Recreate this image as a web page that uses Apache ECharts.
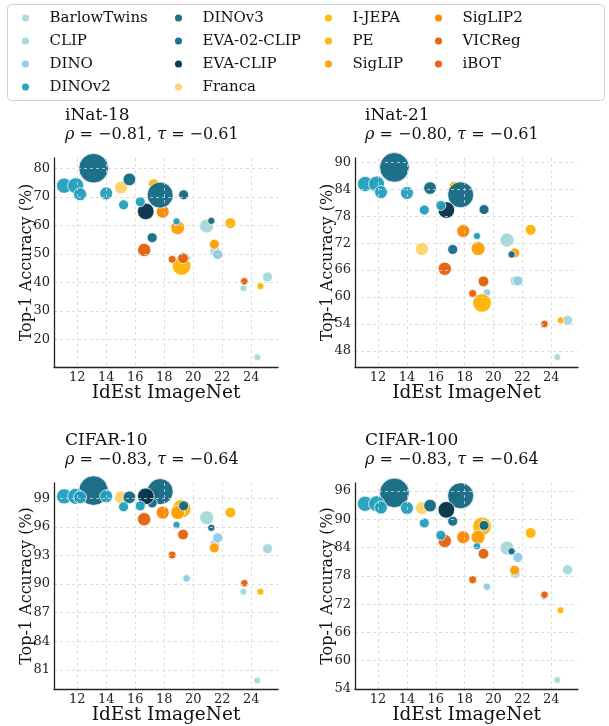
<!DOCTYPE html>
<html>
<head>
<meta charset="utf-8">
<script src="https://cdn.jsdelivr.net/npm/echarts@6/dist/echarts.min.js"></script>
<style>
  html, body { margin: 0; padding: 0; background: #fff; }
  #chart { width: 609px; height: 726px; }
</style>
</head>
<body>
<div id="chart"></div>
<script>
// panels
const datasets = ['iNat-18', 'iNat-21', 'CIFAR-10', 'CIFAR-100'];
const rhoValues = ['−0.81', '−0.80', '−0.83', '−0.83'];
const tauValues = ['−0.61', '−0.61', '−0.64', '−0.64'];

// legend order (alphabetical, as in the figure)
const modelNames = ['BarlowTwins', 'CLIP', 'DINO', 'DINOv2', 'DINOv3', 'EVA-02-CLIP', 'EVA-CLIP',
  'Franca', 'I-JEPA', 'PE', 'SigLIP', 'SigLIP2', 'VICReg', 'iBOT'];

// one entry per model checkpoint
const pointModel = [
  'BarlowTwins',
  'CLIP', 'CLIP', 'CLIP', 'CLIP',
  'DINO', 'DINO',
  'DINOv2', 'DINOv2', 'DINOv2', 'DINOv2', 'DINOv2', 'DINOv2', 'DINOv2',
  'DINOv3', 'DINOv3', 'DINOv3', 'DINOv3',
  'EVA-02-CLIP', 'EVA-02-CLIP',
  'EVA-CLIP',
  'Franca',
  'I-JEPA',
  'PE', 'PE', 'PE',
  'SigLIP', 'SigLIP',
  'SigLIP2',
  'VICReg', 'VICReg',
  'iBOT', 'iBOT'
];
const pointIdEst = [
  24.42,
  20.93, 21.50, 25.13, 23.47,
  21.69, 19.54,
  11.10, 11.90, 12.20, 14.00, 15.20, 16.35, 18.85,
  13.13, 15.60, 17.72, 19.34,
  17.17, 21.25,
  16.73,
  15.03,
  17.29,
  19.20, 22.57, 24.64,
  18.93, 21.46,
  17.90,
  18.55, 23.53,
  16.62, 19.30
];
// bubble size (approx. parameters, millions)
const pointParamsM = [
  230,
  1320, 590, 590, 230,
  590, 280,
  1620, 1800, 1110, 1110, 590, 590, 260,
  7000, 1050, 5300, 590,
  590, 260,
  1980,
  1110,
  740,
  2560, 700, 230,
  1320, 590,
  1110,
  330, 280,
  1170, 700
];
const accINat18 = [
  13.8,
  59.8, 51.1, 41.9, 38.0,
  49.8, 48.5,
  73.9, 73.9, 70.9, 71.2, 67.2, 68.3, 61.4,
  80.0, 76.1, 70.6, 70.7,
  55.7, 61.6,
  64.9,
  73.3,
  74.4,
  45.8, 60.8, 38.7,
  59.2, 53.4,
  64.8,
  48.1, 40.4,
  51.4, 48.5
];
const accINat21 = [
  46.6,
  72.7, 63.6, 54.8, 53.7,
  63.6, 61.0,
  85.2, 85.2, 83.4, 83.2, 79.4, 80.4, 73.6,
  88.9, 84.3, 82.8, 79.5,
  70.6, 69.5,
  79.4,
  70.7,
  84.6,
  58.7, 75.0, 54.8,
  70.8, 69.8,
  74.7,
  60.8, 54.0,
  66.3, 63.5
];
const accCifar10 = [
  79.9,
  96.95, 94.2, 93.7, 89.2,
  94.85, 90.6,
  99.2, 99.2, 99.1, 99.2, 98.1, 98.2, 96.2,
  99.8, 99.1, 99.7, 98.2,
  98.5, 95.9,
  99.2,
  99.1,
  99.5,
  97.9, 97.5, 89.2,
  97.5, 93.8,
  97.5,
  93.05, 90.1,
  96.8, 95.2
];
const accCifar100 = [
  55.9,
  83.9, 78.5, 79.3, 73.6,
  81.9, 75.7,
  93.3, 93.3, 92.5, 92.4, 89.2, 86.6, 84.3,
  95.6, 92.9, 95.0, 88.7,
  89.6, 83.2,
  92.0,
  92.4,
  95.2,
  88.5, 87.1, 70.7,
  86.2, 79.2,
  86.2,
  77.2, 74.0,
  85.4, 82.7
];
const accByDataset = [accINat18, accINat21, accCifar10, accCifar100];

const xTicks = [12, 14, 16, 18, 20, 22, 24];
const yTicksINat18 = [20, 30, 40, 50, 60, 70, 80];
const yTicksINat21 = [48, 54, 60, 66, 72, 78, 84, 90];
const yTicksCifar10 = [81, 84, 87, 90, 93, 96, 99];
const yTicksCifar100 = [54, 60, 66, 72, 78, 84, 90, 96];
const yTicksByDataset = [yTicksINat18, yTicksINat21, yTicksCifar10, yTicksCifar100];

// ---- styling ----
const FONT = 'DejaVu Serif';
const TEXT = '#111';
const colors = {
  'BarlowTwins': '#a8dadc', 'CLIP': '#a3d7d9', 'DINO': '#8ecae6', 'DINOv2': '#219ebc',
  'DINOv3': '#126782', 'EVA-02-CLIP': '#15698a', 'EVA-CLIP': '#023047', 'Franca': '#ffd166',
  'I-JEPA': '#ffb703', 'PE': '#ffb300', 'SigLIP': '#fd9e02', 'SigLIP2': '#fb8500',
  'VICReg': '#e85d04', 'iBOT': '#e36009'
};
// order the groups are drawn in (later = on top)
const drawOrder = ['BarlowTwins', 'CLIP', 'DINO', 'Franca', 'I-JEPA', 'PE', 'SigLIP', 'SigLIP2',
  'VICReg', 'iBOT', 'DINOv3', 'EVA-02-CLIP', 'EVA-CLIP', 'DINOv2'];

const grids = [
  { left: 54, top: 158, width: 224, height: 209 },
  { left: 355, top: 158, width: 223, height: 209 },
  { left: 54, top: 483, width: 224, height: 209 },
  { left: 355, top: 483, width: 223, height: 209 }
];
const yExtents = [[10.4, 83.6], [44.4, 91.0], [79.0, 100.6], [54, 97.7]];

function bubbleSize(p) {
  return 2 + 0.33 * Math.sqrt(p);
}

const xAxes = grids.map((g, i) => ({
  gridIndex: i, type: 'value', min: 10.4, max: 25.85, z: 5,
  name: 'IdEst ImageNet', nameLocation: 'middle', nameGap: 17, nameMoveOverlap: false,
  nameTextStyle: { fontFamily: FONT, fontSize: 18.5, color: TEXT },
  axisLine: { show: true, onZero: false, lineStyle: { color: '#222', width: 1.3 } },
  axisTick: { show: false, customValues: xTicks },
  axisLabel: { customValues: xTicks, fontFamily: FONT, fontSize: 13, color: '#222', margin: 4 },
  splitLine: { show: true, lineStyle: { color: '#d6d6d6', type: [3, 3], width: 0.8 } }
}));

const yAxes = grids.map((g, i) => ({
  gridIndex: i, type: 'value', min: yExtents[i][0], max: yExtents[i][1], z: 5,
  name: 'Top-1 Accuracy (%)', nameLocation: 'middle', nameGap: 19, nameMoveOverlap: false,
  nameTextStyle: { fontFamily: FONT, fontSize: 16, color: TEXT },
  axisLine: { show: true, onZero: false, lineStyle: { color: '#222', width: 1.3 } },
  axisTick: { show: false, customValues: yTicksByDataset[i] },
  axisLabel: { customValues: yTicksByDataset[i], fontFamily: FONT, fontSize: 13, color: '#222', margin: 4 },
  splitLine: { show: true, lineStyle: { color: '#d6d6d6', type: [3, 3], width: 0.8 } }
}));

const series = [];
datasets.forEach((ds, di) => {
  drawOrder.forEach(m => {
    const data = [];
    pointModel.forEach((pm, k) => {
      if (pm === m) data.push([pointIdEst[k], accByDataset[di][k], pointParamsM[k]]);
    });
    series.push({
      name: m, type: 'scatter', xAxisIndex: di, yAxisIndex: di,
      data: data,
      symbolSize: v => bubbleSize(v[2]),
      itemStyle: { color: colors[m], opacity: 0.95, borderColor: '#fff', borderWidth: 0.8 },
      emphasis: { disabled: true },
      clip: true
    });
  });
});

const legendCols = [
  ['BarlowTwins', 'CLIP', 'DINO', 'DINOv2'],
  ['DINOv3', 'EVA-02-CLIP', 'EVA-CLIP', 'Franca'],
  ['I-JEPA', 'PE', 'SigLIP'],
  ['SigLIP2', 'VICReg', 'iBOT']
];
const legendLefts = [20, 173, 323, 433];
const legends = legendCols.map((col, i) => ({
  data: col, orient: 'vertical', left: legendLefts[i], top: 10, padding: 0,
  itemWidth: 38, itemHeight: 9, itemGap: 7, icon: 'circle', selectedMode: false,
  textStyle: { fontFamily: FONT, fontSize: 15, color: TEXT, lineHeight: 16, padding: 0 }
}));

const titles = [];
const titlePos = [[65, 107], [365, 107], [65, 432], [365, 432]];
datasets.forEach((ds, i) => {
  titles.push({
    text: ds, left: titlePos[i][0], top: titlePos[i][1], padding: 0,
    textStyle: { fontFamily: FONT, fontSize: 17, fontWeight: 'normal', color: TEXT }
  });
  titles.push({
    text: '{i|ρ} = ' + rhoValues[i] + ', {i|τ} = ' + tauValues[i],
    left: titlePos[i][0], top: titlePos[i][1] + 20, padding: 0,
    textStyle: {
      fontFamily: FONT, fontSize: 16, fontWeight: 'normal', color: TEXT,
      rich: { i: { fontFamily: FONT, fontSize: 16, fontStyle: 'italic', color: TEXT } }
    }
  });
});

const chart = echarts.init(document.getElementById('chart'));
chart.setOption({
  animation: false,
  backgroundColor: '#fff',
  title: titles,
  legend: legends,
  grid: grids,
  xAxis: xAxes,
  yAxis: yAxes,
  series: series,
  graphic: [{
    type: 'rect', z: -1, silent: true,
    shape: { x: 7.5, y: 4.5, width: 597, height: 96, r: 4 },
    style: { fill: '#fff', stroke: '#d0d0d0', lineWidth: 1 }
  }]
});
</script>
</body>
</html>
